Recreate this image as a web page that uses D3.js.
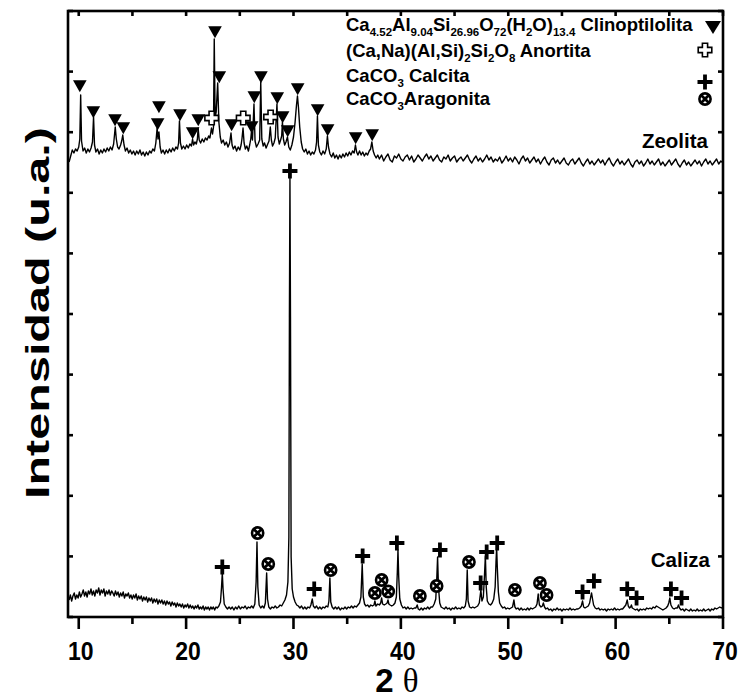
<!DOCTYPE html>
<html>
<head>
<meta charset="utf-8">
<script src="https://cdn.jsdelivr.net/npm/d3@7"></script>
<style>
  body { margin: 0; background: #fff; }
  svg { display: block; }
  text { font-family: "Liberation Sans", Arial, sans-serif; font-weight: bold; fill: #000; }
</style>
</head>
<body>
<svg id="chart" width="741" height="698"></svg>
<script>

// x ticks (2 theta)
var xMajor = [10, 20, 30, 40, 50, 60, 70];
var xMinor = [15, 25, 35, 45, 55, 65];

// y ticks, arbitrary units, no labels
var yTicks = [0, 60.6, 121.2, 181.8, 242.4, 303, 363.6, 424.2, 484.8, 545.4, 606];

// Zeolita pattern [2theta, intensity]
var zeolita = [
  [9.10,455],[9.20,459],[9.30,463],[9.40,467],[9.55,464],[9.70,468],[9.85,466],[10.00,470],[10.10,478],[10.18,522],
  [10.26,476],[10.40,466],[10.55,469],[10.70,464],[10.85,468],[11.00,465],[11.15,469],[11.28,475],[11.38,500],[11.47,472],
  [11.60,465],[11.75,468],[11.90,463],[12.05,467],[12.20,464],[12.35,468],[12.50,465],[12.65,469],[12.80,466],[12.95,470],
  [13.10,467],[13.25,473],[13.40,490],[13.50,478],[13.62,470],[13.75,468],[13.90,472],[14.00,476],[14.10,482],[14.22,472],
  [14.35,466],[14.50,469],[14.65,464],[14.80,467],[14.95,463],[15.10,466],[15.25,462],[15.40,466],[15.55,463],[15.70,467],
  [15.85,462],[16.00,465],[16.15,461],[16.30,465],[16.45,462],[16.60,466],[16.75,464],[16.90,468],[17.05,466],[17.18,474],
  [17.30,489],[17.38,478],[17.47,485],[17.58,470],[17.70,464],[17.85,467],[18.00,463],[18.15,467],[18.30,464],[18.45,468],
  [18.60,465],[18.75,469],[18.90,466],[19.05,470],[19.20,468],[19.30,474],[19.38,496],[19.47,474],[19.60,468],[19.75,471],
  [19.90,468],[20.05,472],[20.20,469],[20.35,473],[20.50,471],[20.60,478],[20.70,472],[20.82,475],[20.95,473],[21.05,478],
  [21.12,489],[21.22,477],[21.35,474],[21.50,478],[21.65,475],[21.80,479],[21.95,477],[22.10,481],[22.22,479],[22.36,489],
  [22.46,483],[22.55,490],[22.62,578],[22.70,500],[22.80,505],[22.94,534],[23.05,495],[23.18,480],[23.30,474],[23.45,477],
  [23.60,472],[23.75,475],[23.90,470],[24.05,474],[24.18,484],[24.28,472],[24.40,468],[24.55,471],[24.70,466],[24.85,470],
  [25.00,467],[25.12,472],[25.20,478],[25.30,489],[25.40,474],[25.52,468],[25.65,471],[25.80,466],[25.92,472],[26.02,478],
  [26.08,485],[26.18,477],[26.32,513],[26.42,476],[26.55,470],[26.70,473],[26.85,477],[26.95,535],[27.05,478],[27.18,471],
  [27.30,474],[27.45,469],[27.60,473],[27.72,476],[27.84,490],[27.94,477],[28.05,471],[28.18,474],[28.30,479],[28.46,513],
  [28.56,480],[28.68,473],[28.80,477],[28.90,481],[28.97,495],[29.06,478],[29.18,472],[29.30,475],[29.44,480],[29.56,470],
  [29.70,467],[29.85,472],[30.00,480],[30.15,495],[30.28,512],[30.37,521],[30.46,510],[30.58,490],[30.72,475],[30.85,468],
  [31.00,465],[31.15,468],[31.30,463],[31.45,466],[31.60,462],[31.75,465],[31.90,463],[32.05,467],[32.15,475],[32.23,501],
  [32.32,472],[32.45,465],[32.60,462],[32.75,466],[32.90,463],[33.05,468],[33.16,481],[33.26,470],[33.40,463],[33.55,460],
  [33.70,464],[33.85,459],[34.00,462],[34.15,458],[34.30,462],[34.45,459],[34.60,463],[34.75,460],[34.90,464],[35.05,461],
  [35.20,465],[35.35,462],[35.50,466],[35.65,464],[35.77,472],[35.88,465],[36.00,462],[36.15,466],[36.30,462],[36.45,465],
  [36.60,461],[36.75,464],[36.90,462],[37.05,466],[37.18,468],[37.30,475],[37.42,466],[37.55,462],[37.70,459],[37.85,462],
  [38.0,458],[38.2,462],[38.4,456],[38.6,460],[38.8,463],[39.0,457],[39.2,455],[39.4,461],[39.6,459],[39.8,463],
  [40.0,458],[40.2,456],[40.4,460],[40.6,462],[40.8,457],[41.0,461],[41.2,455],[41.4,458],[41.6,462],[41.8,459],
  [42.0,456],[42.2,460],[42.4,463],[42.6,458],[42.8,461],[43.0,456],[43.2,459],[43.4,462],[43.6,457],[43.8,455],
  [44.0,460],[44.2,458],[44.4,462],[44.6,456],[44.8,459],[45.0,461],[45.2,455],[45.4,458],[45.6,460],[45.8,456],
  [46.0,459],[46.2,462],[46.4,457],[46.6,454],[46.8,458],[47.0,461],[47.2,456],[47.4,459],[47.6,455],[47.8,458],
  [48.0,462],[48.2,457],[48.4,460],[48.6,455],[48.8,458],[49.0,456],[49.2,460],[49.4,454],[49.6,457],[49.8,461],
  [50.0,456],[50.2,459],[50.4,455],[50.6,460],[50.8,457],[51.0,453],[51.2,458],[51.4,461],[51.6,456],[51.8,459],
  [52.0,454],[52.2,457],[52.4,460],[52.6,455],[52.8,458],[53.0,453],[53.2,457],[53.4,460],[53.6,455],[53.8,452],
  [54.0,457],[54.2,459],[54.4,454],[54.6,457],[54.8,453],[55.0,456],[55.2,459],[55.4,454],[55.6,452],[55.8,456],
  [56.0,458],[56.2,453],[56.4,456],[56.6,459],[56.8,454],[57.0,451],[57.2,455],[57.4,458],[57.6,453],[57.8,456],
  [58.0,452],[58.2,455],[58.4,458],[58.6,454],[58.8,457],[59.0,452],[59.2,456],[59.4,459],[59.6,454],[59.8,451],
  [60.0,455],[60.2,458],[60.4,453],[60.6,456],[60.8,452],[61.0,455],[61.2,458],[61.4,453],[61.6,450],[61.8,455],
  [62.0,457],[62.2,453],[62.4,456],[62.6,451],[62.8,454],[63.0,458],[63.2,453],[63.4,456],[63.6,452],[63.8,455],
  [64.0,458],[64.2,452],[64.4,455],[64.6,451],[64.8,454],[65.0,457],[65.2,452],[65.4,455],[65.6,458],[65.8,453],
  [66.0,450],[66.2,454],[66.4,457],[66.6,452],[66.8,455],[67.0,451],[67.2,454],[67.4,457],[67.6,453],[67.8,456],
  [68.0,451],[68.2,455],[68.4,458],[68.6,453],[68.8,456],[69.0,452],[69.2,455],[69.4,458],[69.6,453],[69.8,456],[70.0,454]
];

// Caliza pattern [2theta, intensity]
var caliza = [
  [9.10,17],[9.22,22],[9.34,16],[9.46,21],[9.58,24],[9.70,18],[9.82,22],[9.94,19],[10.06,25],[10.18,20],
  [10.30,23],[10.42,27],[10.54,21],[10.66,25],[10.78,20],[10.90,26],[11.02,23],[11.14,28],[11.26,22],[11.38,26],
  [11.50,21],[11.62,27],[11.74,24],[11.86,29],[11.98,22],[12.10,27],[12.22,24],[12.34,28],[12.46,21],[12.58,26],
  [12.70,23],[12.82,27],[12.94,22],[13.06,26],[13.18,24],[13.30,21],[13.42,26],[13.54,22],[13.66,25],[13.78,20],
  [13.90,24],[14.02,21],[14.14,25],[14.26,19],[14.38,23],[14.50,21],[14.62,24],[14.74,19],[14.86,22],[14.98,18],
  [15.10,22],[15.22,19],[15.34,23],[15.46,17],[15.58,21],[15.70,18],[15.82,21],[15.94,16],[16.06,20],[16.18,17],
  [16.30,20],[16.42,15],[16.54,19],[16.66,16],[16.78,19],[16.90,14],[17.02,18],[17.14,15],[17.26,18],[17.38,13],
  [17.50,17],[17.62,14],[17.74,17],[17.86,13],[17.98,16],[18.10,12],[18.22,16],[18.34,13],[18.46,15],[18.58,11],
  [18.70,15],[18.82,12],[18.94,14],[19.06,10],[19.18,14],[19.30,11],[19.42,13],[19.54,10],[19.66,13],[19.78,9],
  [19.90,12],[20.02,10],[20.14,13],[20.26,9],[20.38,12],[20.50,9],[20.62,11],[20.74,8],[20.86,11],[20.98,9],
  [21.10,12],[21.22,8],[21.34,10],[21.46,8],[21.58,11],[21.70,7],[21.82,10],[21.94,8],[22.06,10],[22.18,7],
  [22.30,10],[22.42,8],[22.54,10],[22.66,7],[22.78,10],[22.90,9],[23.05,11],[23.20,15],[23.30,30],[23.37,44],
  [23.44,28],[23.55,13],[23.70,10],[23.85,8],[24.00,10],[24.15,8],[24.30,10],[24.45,7],[24.60,10],[24.75,8],
  [24.90,11],[25.05,8],[25.20,10],[25.35,9],[25.50,11],[25.65,8],[25.80,10],[25.95,9],[26.10,11],[26.25,9],
  [26.40,13],[26.52,35],[26.60,75],[26.68,30],[26.80,12],[26.95,9],[27.10,11],[27.25,9],[27.38,14],[27.50,44],
  [27.58,18],[27.70,10],[27.85,8],[28.00,10],[28.15,9],[28.30,11],[28.45,9],[28.60,10],[28.75,12],[28.90,11],
  [29.05,14],[29.20,17],[29.35,22],[29.48,35],[29.57,80],[29.62,300],[29.67,440],[29.72,300],[29.78,60],[29.88,28],
  [30.00,20],[30.15,15],[30.30,12],[30.45,11],[30.60,9],[30.75,11],[30.90,8],[31.05,10],[31.20,8],[31.35,10],
  [31.50,9],[31.62,12],[31.75,18],[31.85,11],[32.00,9],[32.15,11],[32.30,8],[32.45,10],[32.60,8],[32.75,10],
  [32.90,9],[33.05,11],[33.20,10],[33.30,16],[33.39,39],[33.47,15],[33.60,10],[33.75,8],[33.90,10],[34.05,8],
  [34.20,10],[34.35,7],[34.50,9],[34.65,8],[34.80,10],[34.95,8],[35.10,10],[35.25,9],[35.40,11],[35.55,9],
  [35.70,11],[35.85,10],[36.00,12],[36.15,14],[36.28,20],[36.40,53],[36.50,20],[36.62,13],[36.75,11],[36.90,12],
  [37.05,10],[37.20,12],[37.35,11],[37.50,12],[37.58,16],[37.68,11],[37.85,13],[38.00,12],[38.12,14],[38.21,19],
  [38.30,13],[38.45,12],[38.60,13],[38.72,14],[38.80,17],[38.88,13],[39.00,12],[39.15,11],[39.30,12],[39.45,14],
  [39.58,20],[39.67,45],[39.73,67],[39.80,40],[39.90,18],[40.05,12],[40.20,9],[40.35,10],[40.50,8],[40.65,10],
  [40.80,8],[40.95,9],[41.10,8],[41.25,9],[41.40,9],[41.52,12],[41.62,8],[41.75,7],[41.90,9],[42.05,7],
  [42.20,9],[42.35,8],[42.50,10],[42.65,8],[42.80,10],[42.95,10],[43.10,13],[43.25,18],[43.35,40],[43.42,60],
  [43.50,30],[43.62,14],[43.75,10],[43.90,9],[44.05,8],[44.20,10],[44.35,8],[44.50,9],[44.65,7],[44.80,9],
  [44.95,8],[45.10,10],[45.25,8],[45.40,9],[45.55,8],[45.70,10],[45.85,9],[46.00,11],[46.10,18],[46.18,47],
  [46.26,16],[46.40,10],[46.55,9],[46.70,10],[46.85,9],[47.00,10],[47.15,11],[47.30,14],[47.45,27],[47.55,16],
  [47.68,20],[47.78,40],[47.87,61],[47.95,30],[48.05,16],[48.20,13],[48.35,12],[48.50,14],[48.65,18],[48.78,30],
  [48.86,55],[48.92,69],[48.98,50],[49.08,25],[49.20,14],[49.35,11],[49.50,9],[49.65,10],[49.80,8],[49.95,9],
  [50.10,8],[50.25,9],[50.40,10],[50.53,17],[50.62,10],[50.75,8],[50.90,9],[51.05,7],[51.20,9],[51.35,7],
  [51.50,8],[51.65,7],[51.80,9],[51.95,7],[52.10,9],[52.25,8],[52.40,9],[52.55,10],[52.68,13],[52.79,23],
  [52.90,12],[53.05,10],[53.18,11],[53.27,14],[53.38,10],[53.50,8],[53.65,9],[53.80,7],[53.95,8],[54.10,6],
  [54.25,8],[54.40,7],[54.55,9],[54.70,7],[54.85,8],[55.00,6],[55.15,8],[55.30,7],[55.45,8],[55.60,7],
  [55.75,9],[55.90,7],[56.05,8],[56.20,7],[56.35,8],[56.50,8],[56.65,9],[56.80,11],[56.92,16],[57.02,10],
  [57.15,9],[57.30,10],[57.45,11],[57.58,14],[57.68,20],[57.76,24],[57.85,18],[57.95,12],[58.10,9],[58.25,8],
  [58.40,9],[58.55,7],[58.70,8],[58.85,7],[59.00,8],[59.15,6],[59.30,8],[59.45,7],[59.60,8],[59.75,7],
  [59.90,9],[60.05,7],[60.20,8],[60.35,7],[60.50,8],[60.65,8],[60.80,10],[60.95,12],[61.08,17],[61.18,11],
  [61.30,9],[61.40,10],[61.47,12],[61.55,9],[61.70,8],[61.85,7],[62.00,8],[62.15,6],[62.30,8],[62.45,7],
  [62.60,8],[62.75,7],[62.90,9],[63.05,8],[63.20,9],[63.35,8],[63.50,10],[63.65,9],[63.80,11],[63.95,10],
  [64.10,9],[64.25,8],[64.40,7],[64.55,8],[64.70,9],[64.85,11],[64.95,14],[65.05,19],[65.15,12],[65.30,9],
  [65.45,8],[65.60,9],[65.75,9],[65.85,12],[65.95,9],[66.10,7],[66.25,8],[66.40,6],[66.55,8],[66.70,7],
  [66.85,6],[67.00,8],[67.15,6],[67.30,7],[67.45,6],[67.60,8],[67.75,6],[67.90,7],[68.05,6],[68.20,8],
  [68.35,6],[68.50,7],[68.65,8],[68.80,6],[68.95,8],[69.10,7],[69.25,9],[69.40,8],[69.55,9],[69.70,10],
  [69.85,9],[70.00,10]
];

// phase markers [2theta, intensity]
var clinoptilolita = [
  [10.10,531],[11.36,505],[13.38,497],[14.15,489],[17.47,510],[17.35,493],[19.43,502],[20.61,484],[21.13,497],
  [22.69,585],[23.09,540],[24.24,492],[26.10,490],[26.35,520],[26.97,540],[28.49,519],[28.99,500],[29.46,486],
  [30.39,528],[32.25,507],[33.18,487],[35.79,479],[37.33,482]
];
var anortita = [[22.38,499],[25.32,499],[27.87,500]];
var calcita = [
  [23.37,50],[29.67,446],[31.93,28],[36.44,61],[39.63,74],[43.64,67],[47.43,34],[47.99,65],[48.97,74],
  [56.92,25],[57.98,36],[61.08,28],[61.95,19],[65.15,28],[66.14,19]
];
var aragonita = [
  [26.66,84],[27.65,53],[33.46,47],[37.58,24],[38.21,37],[38.82,25.5],[41.77,21],[43.33,31],[46.34,55],
  [50.62,27],[52.95,34],[53.57,22]
];

var svg = d3.select('#chart');
svg.append('rect').attr('width', 741).attr('height', 698).attr('fill', '#fff');

var x = d3.scaleLinear().domain([9, 70]).range([68, 723]);
var y = d3.scaleLinear().domain([0, 606]).range([617, 11]);

// traces
var line = d3.line().x(function (d) { return x(d[0]); }).y(function (d) { return y(d[1]); });
[zeolita, caliza].forEach(function (s) {
  svg.append('path').datum(s)
    .attr('d', line)
    .attr('fill', 'none')
    .attr('stroke', '#000')
    .attr('stroke-width', 1.4)
    .attr('stroke-linejoin', 'round');
});

// marker shapes
var shapes = {
  tri: 'M-6.8,-5.8L6.8,-5.8L0,6.2Z',
  triBig: 'M-8,-6L8,-6L0,7Z',
  plus: 'M-7.5,0H7.5M0,-7.5V7.5',
  cross: 'M-2.6,-6.8H2.6V-2.6H6.8V2.6H2.6V6.8H-2.6V2.6H-6.8V-2.6H-2.6Z'
};

function drawTri(g, tx, ty, big) {
  g.append('path').attr('d', big ? shapes.triBig : shapes.tri)
    .attr('transform', 'translate(' + tx + ',' + ty + ')').attr('fill', '#000');
}
function drawPlus(g, tx, ty) {
  g.append('path').attr('d', shapes.plus).attr('transform', 'translate(' + tx + ',' + ty + ')')
    .attr('stroke', '#000').attr('stroke-width', 3.8).attr('fill', 'none');
}
function drawCross(g, tx, ty) {
  g.append('path').attr('d', shapes.cross).attr('transform', 'translate(' + tx + ',' + ty + ')')
    .attr('fill', '#fff').attr('stroke', '#000').attr('stroke-width', 1.6);
}
function drawArag(g, tx, ty) {
  var m = g.append('g').attr('transform', 'translate(' + tx + ',' + ty + ')');
  m.append('circle').attr('r', 5.6).attr('fill', '#fff').attr('stroke', '#000').attr('stroke-width', 2.6);
  m.append('path').attr('d', 'M-4,-4L4,4M-4,4L4,-4').attr('stroke', '#000').attr('stroke-width', 2.8);
}

var mk = svg.append('g');
clinoptilolita.forEach(function (d) { drawTri(mk, x(d[0]), y(d[1])); });
anortita.forEach(function (d) { drawCross(mk, x(d[0]), y(d[1])); });
calcita.forEach(function (d) { drawPlus(mk, x(d[0]), y(d[1])); });
aragonita.forEach(function (d) { drawArag(mk, x(d[0]), y(d[1])); });

// frame and ticks
svg.append('rect').attr('x', 68).attr('y', 11).attr('width', 655).attr('height', 606)
  .attr('fill', 'none').attr('stroke', '#000').attr('stroke-width', 2.6);

var tk = svg.append('g').attr('stroke', '#000').attr('stroke-width', 2.6);
xMajor.forEach(function (v) {
  tk.append('line').attr('x1', x(v)).attr('x2', x(v)).attr('y1', 617).attr('y2', 629);
  tk.append('line').attr('x1', x(v)).attr('x2', x(v)).attr('y1', 11).attr('y2', 16);
});
xMinor.forEach(function (v) {
  tk.append('line').attr('x1', x(v)).attr('x2', x(v)).attr('y1', 617).attr('y2', 624);
  tk.append('line').attr('x1', x(v)).attr('x2', x(v)).attr('y1', 11).attr('y2', 16);
});
yTicks.forEach(function (v) {
  tk.append('line').attr('x1', 68).attr('x2', 73).attr('y1', y(v)).attr('y2', y(v));
  tk.append('line').attr('x1', 718).attr('x2', 723).attr('y1', y(v)).attr('y2', y(v));
});

// tick labels
xMajor.forEach(function (v) {
  svg.append('text').attr('transform', 'translate(' + (x(v) + 2) + ',660) scale(0.92,1)')
    .attr('text-anchor', 'middle').style('font-size', '25px').text(v);
});

// axis titles
var xt = svg.append('text').attr('transform', 'translate(397,692)').attr('text-anchor', 'middle');
xt.append('tspan').style('font-size', '33px').text('2 ');
xt.append('tspan').style('font-family', '"Liberation Serif", "Times New Roman", serif')
  .style('font-weight', 'normal').style('font-size', '33px').text('\u03b8');

svg.append('text').attr('transform', 'translate(49,313) rotate(-90)')
  .attr('text-anchor', 'middle').style('font-size', '34px')
  .attr('textLength', 372).attr('lengthAdjust', 'spacingAndGlyphs')
  .text('Intensidad (u.a.)');

// sample labels
svg.append('text').attr('x', 708).attr('y', 148).attr('text-anchor', 'end')
  .style('font-size', '20.5px').text('Zeolita');
svg.append('text').attr('x', 710).attr('y', 567).attr('text-anchor', 'end')
  .style('font-size', '20.5px').text('Caliza');

// legend
var legendRows = [
  { y: 31, parts: [['Ca'], ['4.52', 1], ['Al'], ['9.04', 1], ['Si'], ['26.96', 1], ['O'], ['72', 1], ['(H'], ['2', 1], ['O)'], ['13.4', 1], [' Clinoptilolita']] },
  { y: 57, parts: [['(Ca,Na)(Al,Si)'], ['2', 1], ['Si'], ['2', 1], ['O'], ['8', 1], [' Anortita']] },
  { y: 82, parts: [['CaCO'], ['3', 1], [' Calcita']] },
  { y: 105, parts: [['CaCO'], ['3', 1], ['Aragonita']] }
];
legendRows.forEach(function (r) {
  var t = svg.append('text').attr('x', 346).attr('y', r.y).style('font-size', '18.5px');
  var sub = false;
  r.parts.forEach(function (p) {
    var s = t.append('tspan').text(p[0]);
    if (p[1]) {
      s.style('font-size', '11.5px');
      if (!sub) { s.attr('dy', 5); sub = true; }
    } else if (sub) { s.attr('dy', -5); sub = false; }
  });
});
drawTri(svg, 713, 27, true);
drawCross(svg, 705, 50);
drawPlus(svg, 705, 82);
drawArag(svg, 705, 99);

</script>
</body>
</html>
